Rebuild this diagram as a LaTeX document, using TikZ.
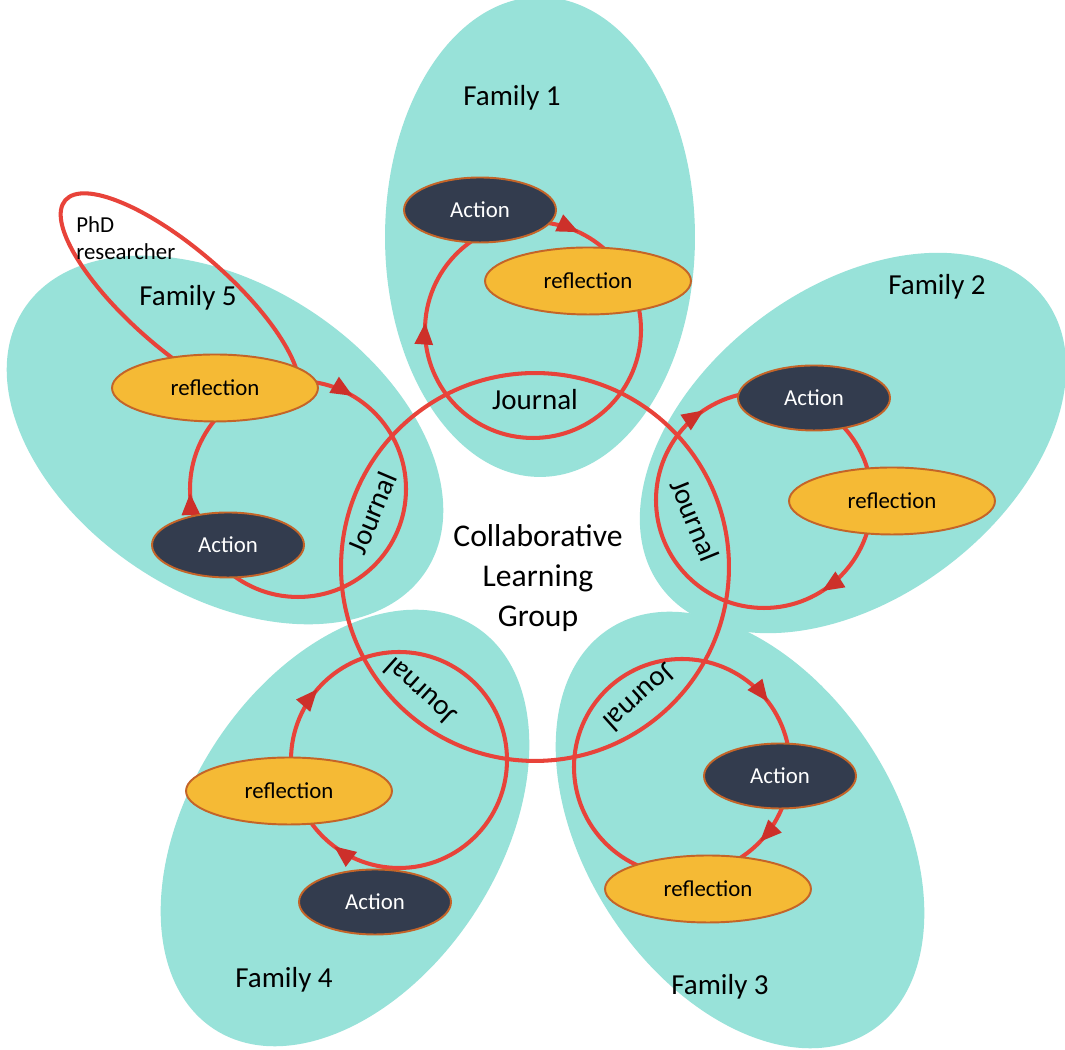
\documentclass[tikz,border=0pt]{standalone}
\usepackage{fontspec}
\setmainfont{Carlito}
\usetikzlibrary{shapes.geometric, arrows.meta, decorations.markings, calc}

\definecolor{petalteal}{RGB}{152,226,217}
\definecolor{linered}{RGB}{232,67,58}
\definecolor{tipred}{RGB}{205,48,42}
\definecolor{actfill}{RGB}{51,60,78}
\definecolor{reflfill}{RGB}{245,186,53}
\definecolor{nodeedge}{RGB}{196,100,40}

\begin{document}
\begin{tikzpicture}[
  x=0.02cm, y=0.02cm,
  petal/.style={ellipse, fill=petalteal, minimum width=9.6cm, minimum height=6.2cm, inner sep=0pt},
  ring/.style={circle, draw=linered, line width=2.3pt, minimum size=7.76cm, inner sep=0pt},
  cycleline/.style 2 args={draw=linered, line width=2.3pt, postaction={decorate, decoration={markings,
      mark=at position #1 with {\arrow{Triangle[length=12.5pt, width=10pt, color=tipred]}},
      mark=at position #2 with {\arrow{Triangle[length=12.5pt, width=10pt, color=tipred]}}}}},
  act/.style={ellipse, draw=nodeedge, line width=1.1pt, fill=actfill, text=white, minimum width=3.04cm, minimum height=1.3cm, inner sep=0pt, font=\fontsize{13}{15}\selectfont},
  refl/.style={act, fill=reflfill, text=black, minimum width=4.12cm, minimum height=1.34cm},
  journal/.style={font=\fontsize{16.5}{19}\selectfont, inner sep=0pt},
  fam/.style={font=\fontsize{16.5}{19}\selectfont}
]
\fill[white] (0,0) rectangle (1065,1050);
\useasboundingbox (0,0) rectangle (1065,1050);

\node[petal, rotate=90] (f1) at (540,813) {};
\node[petal, rotate=37] (f2) at (853,607) {};
\node[petal, rotate=-57] (f3) at (740,220) {};
\node[petal, rotate=57] (f4) at (345,222) {};
\node[petal, rotate=-33] (f5) at (225,610) {};

\node[ring] (group) at (535,483) {};

\coordinate (l1) at (533,720);
\coordinate (l2) at (764,550);
\coordinate (l3) at (682,283);
\coordinate (l4) at (399,290);
\coordinate (l5) at (298,561);
\draw[cycleline={0.07}{0.761}] ($(l1)+(90:108)$) arc[start angle=90, end angle=-270, radius=108];
\draw[cycleline={0.41}{0.906}] ($(l2)+(90:108)$) arc[start angle=90, end angle=-270, radius=108];
\draw[cycleline={0.147}{0.372}] ($(l3)+(90:108)$) arc[start angle=90, end angle=-270, radius=108];
\draw[cycleline={0.603}{0.864}] ($(l4)+(90:108)$) arc[start angle=90, end angle=-270, radius=108];
\draw[cycleline={0.085}{0.744}] ($(l5)+(90:108)$) arc[start angle=90, end angle=-270, radius=108];

\coordinate (phd) at (180,750);
\draw[linered, line width=2.3pt, rotate around={-41:(phd)}] (phd) ellipse[x radius=152, y radius=50];

\node[journal] (j1) at (535,650) {Journal};
\node[journal, rotate=-68] (j2) at (695,530) {Journal};
\node[journal, rotate=-138] (j3) at (640,352) {Journal};
\node[journal, rotate=138] (j4) at (420,358) {Journal};
\node[journal, rotate=67] (j5) at (372,537) {Journal};

\node[act] (a1) at (480,840) {Action};
\node[refl] (r1) at (588,769) {reflection};
\node[act] (a2) at (814,652) {Action};
\node[refl] (r2) at (892,549) {reflection};
\node[act] (a3) at (780,274) {Action};
\node[refl] (r3) at (708,161) {reflection};
\node[act] (a4) at (375,148) {Action};
\node[refl] (r4) at (289,259) {reflection};
\node[act] (a5) at (228,505) {Action};
\node[refl] (r5) at (215,662) {reflection};

\node[fam] (fam1) at (512,952) {Family 1};
\node[fam] (fam2) at (937,763) {Family 2};
\node[fam] (fam3) at (720,63) {Family 3};
\node[fam] (fam4) at (284,70) {Family 4};
\node[fam] (fam5) at (188,752) {Family 5};

\node[font=\fontsize{18}{22.7}\selectfont, align=center] (grp) at (538,472) {Collaborative\\Learning\\Group};
\node[anchor=west, align=left, inner sep=0pt, font=\fontsize{13}{15.3}\selectfont] (phdtxt) at (76,812) {PhD\\researcher};
\end{tikzpicture}
\end{document}
